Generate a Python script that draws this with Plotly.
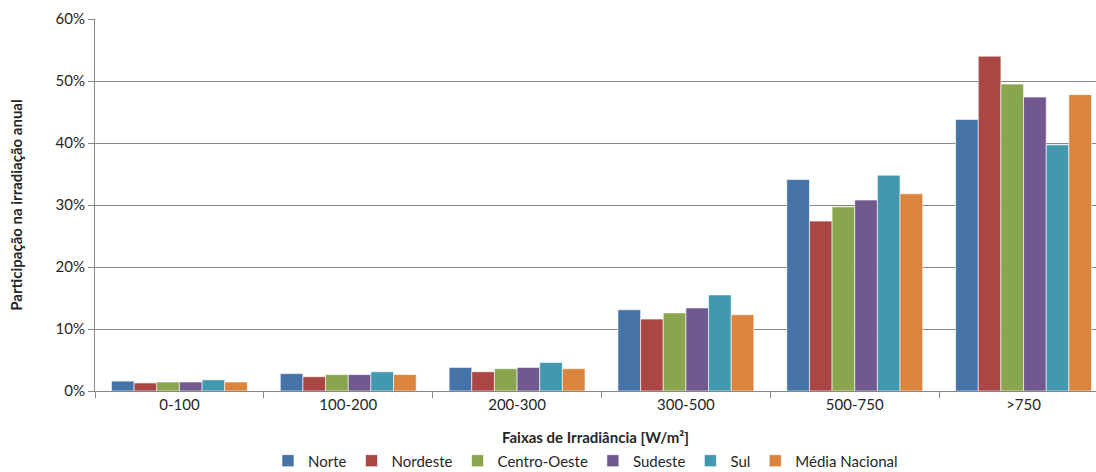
import plotly.graph_objects as go

categories = ["0-100", "100-200", "200-300", "300-500", "500-750", ">750"]
norte = [1.6, 2.8, 3.8, 13.1, 34.1, 43.8]
nordeste = [1.3, 2.3, 3.1, 11.6, 27.4, 54.0]
centro_oeste = [1.45, 2.65, 3.6, 12.6, 29.7, 49.5]
sudeste = [1.45, 2.65, 3.8, 13.4, 30.8, 47.4]
sul = [1.8, 3.1, 4.6, 15.5, 34.8, 39.7]
media_nacional = [1.45, 2.65, 3.6, 12.3, 31.8, 47.8]

series = [
    ("Norte", norte, "#4572A7"),
    ("Nordeste", nordeste, "#AA4643"),
    ("Centro-Oeste", centro_oeste, "#89A54E"),
    ("Sudeste", sudeste, "#71588F"),
    ("Sul", sul, "#4198AF"),
    ("Média Nacional", media_nacional, "#DB843D"),
]

FONT = "Lato"
fig = go.Figure()
for name, vals, color in series:
    fig.add_trace(go.Bar(
        x=categories, y=vals, name=name,
        marker=dict(color=color, line=dict(color="rgba(255,255,255,0.6)", width=1)),
    ))

fig.update_layout(
    width=1096, height=472,
    margin=dict(l=95, r=0, t=19, b=81, autoexpand=False),
    paper_bgcolor="white", plot_bgcolor="white",
    barmode="group", bargap=0.195, bargroupgap=0,
    font=dict(family=FONT, size=15, color="#262626"),
    showlegend=True,
    legend=dict(orientation="h", x=0.49, xanchor="center", y=-0.188, yanchor="middle",
                font=dict(size=15), itemwidth=30, traceorder="normal",
                tracegroupgap=0, borderwidth=0),
)
fig.update_xaxes(
    type="category", range=[-0.5, 5.429], automargin=False,
    showline=True, linecolor="#868686", linewidth=1,
    ticks="outside", tickson="boundaries", ticklen=6, tickcolor="#868686",
    showgrid=False,
    title=dict(text="<b>Faixas de Irradiância [W/m²]</b>", font=dict(size=15), standoff=20),
    tickfont=dict(size=15),
)
fig.update_yaxes(
    range=[0, 60], dtick=10, ticksuffix="%", automargin=False,
    showline=True, linecolor="#868686", linewidth=1,
    ticks="outside", ticklen=6, tickcolor="#868686",
    showgrid=True, gridcolor="#868686", gridwidth=1,
    zeroline=False,
    title=dict(text="<b>Participação na irradiação anual</b>", font=dict(size=15), standoff=29),
    tickfont=dict(size=15),
)

fig.write_html(
    "out.html",
    config={"displayModeBar": False},
    post_script="document.body.style.margin='0';document.body.style.overflow='hidden';",
)
